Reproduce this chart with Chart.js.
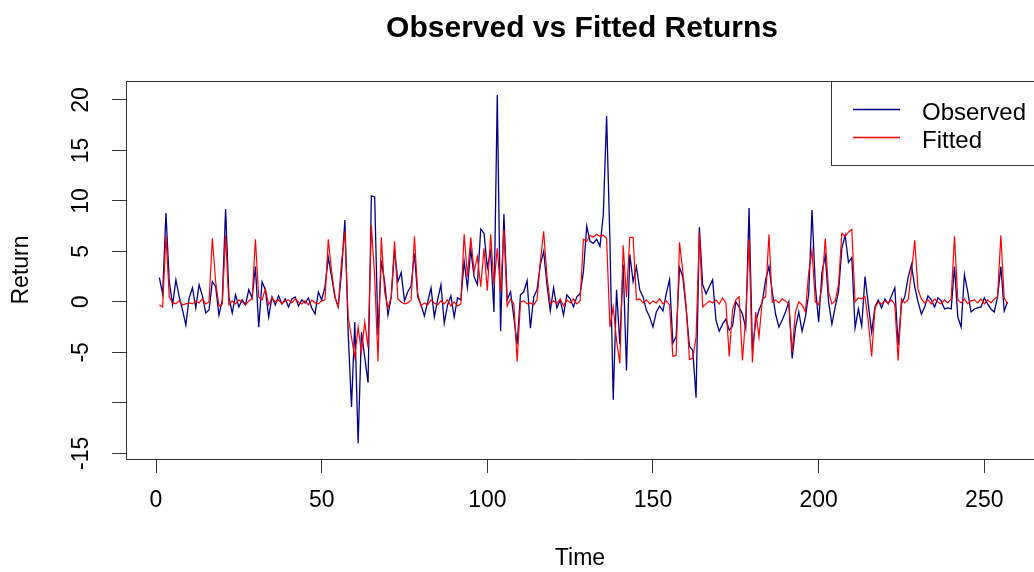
<!DOCTYPE html>
<html>
<head>
<meta charset="utf-8">
<title>Observed vs Fitted Returns</title>
<script src="https://cdn.jsdelivr.net/npm/chart.js@4.4.1/dist/chart.umd.min.js"></script>
<style>
	html, body { margin: 0; padding: 0; background: #fff; overflow: hidden; }
	canvas { display: block; }
</style>
</head>
<body>
<canvas id="returns" width="1034" height="572"></canvas>
<script>
// values, one row = 10 periods
const observed = [
	2.4, 0.8, 8.8, 2.0, -0.3, 2.2, 0.5, -0.8, -2.3, 0.4,
	1.4, -0.6, 1.7, 0.6, -1.1, -0.8, 2.0, 1.5, -1.3, 0.2,
	9.2, 0.5, -1.1, 0.7, -0.5, 0.2, -0.3, 1.2, 0.4, 3.5,
	-2.5, 2.0, 1.2, -1.5, 0.5, -0.3, 0.6, -0.2, 0.3, -0.5,
	0.3, 0.5, -0.4, 0.2, -0.1, 0.4, -0.6, -1.2, 1.0, 0.2,
	1.5, 4.4, 2.5, 0.5, -0.5, 3.0, 8.1, -3.1, -10.4, -2.0,
	-14.0, -3.0, -5.5, -8.0, 10.5, 10.4, -3.3, 4.1, 2.0, -1.3,
	0.5, 5.2, 2.0, 2.9, 0.1, 1.0, 1.6, 4.8, 0.5, -0.3,
	-1.4, 0.0, 1.4, -1.5, 0.2, 1.7, -2.1, -0.3, 0.6, -1.5,
	0.4, 0.2, 4.0, 1.4, 5.2, 2.5, 1.7, 7.2, 6.8, 3.4,
	5.0, -1.0, 20.5, -2.9, 8.7, 0.2, 1.0, -1.5, -4.2, 0.7,
	1.0, 2.1, -2.6, 0.5, 1.2, 3.7, 5.0, 1.7, -0.9, 1.4,
	-0.6, 0.2, -1.3, 0.7, 0.3, -0.5, 0.5, 0.8, 3.0, 7.5,
	6.0, 5.8, 6.2, 5.5, 8.6, 18.4, 6.0, -9.7, 1.2, -4.2,
	3.7, -6.8, 4.7, 2.0, 3.5, 1.2, 0.5, -0.8, -1.5, -2.5,
	-1.0, -0.4, -0.9, 0.8, 2.2, -4.1, -3.4, 3.4, 2.5, -0.7,
	-4.4, -4.8, -9.5, 7.4, 1.7, 0.8, 1.5, 2.2, -1.8, -2.9,
	-2.2, -1.7, -2.8, -2.4, 0.0, -0.5, -1.2, -2.6, 9.3, -4.7,
	-2.0, -0.8, 0.0, 2.2, 3.5, 1.0, -1.2, -2.5, -1.8, -1.0,
	0.0, -5.6, -2.6, -1.0, -2.9, -1.5, 0.8, 9.1, 1.6, -2.0,
	2.9, 4.6, 0.0, -2.2, -0.5, 1.0, 5.3, 6.6, 3.9, 4.4,
	-2.6, -0.7, -2.4, 2.5, -0.3, -3.0, -0.5, 0.2, -0.6, 0.3,
	-0.2, 0.6, 1.4, -4.3, -0.2, 0.5, 2.4, 3.7, 1.5, 0.0,
	-1.2, -0.5, 0.6, 0.2, -0.5, 0.4, 0.1, -0.7, -0.6, -0.7,
	3.5, -1.5, -2.5, 2.7, 1.0, -1.0, -0.7, -0.6, -0.5, 0.4,
	-0.2, -0.7, -1.0, 0.5, 3.5, -0.9, 0.0,
]
const fitted = [
	-0.3, -0.5, 6.6, 0.5, -0.1, -0.2, 0.1, -0.3, -0.2, -0.1,
	-0.2, 0.1, -0.1, 0.3, -0.2, 0.0, 6.3, 2.0, -0.4, -0.2,
	6.6, -0.3, 0.1, -0.2, 0.2, 0.0, -0.3, 0.1, 0.3, 6.2,
	0.5, 0.2, 1.3, -0.3, 0.4, 0.0, 0.2, -0.2, 0.1, 0.2,
	-0.1, 0.3, 0.0, -0.2, 0.1, -0.3, 0.2, -0.1, -0.2, 0.1,
	0.2, 6.2, 3.0, 0.5, -0.5, 4.0, 7.0, -1.5, -3.5, -5.5,
	-2.5, -5.0, -2.0, -4.5, 7.6, 2.5, -5.9, 6.4, 1.0, -0.6,
	0.5, 6.0, 0.3, 0.0, -0.2, -0.1, 0.2, 6.5, 0.8, -0.4,
	-0.1, -0.3, 0.2, -0.1, -0.3, 0.1, -0.2, 0.2, -0.4, 0.0,
	-0.4, -0.2, 6.7, 2.5, 6.4, 3.0, 4.5, 1.5, 5.3, 1.1,
	6.7, 1.7, 5.3, 1.0, 7.2, -0.4, 0.3, -0.2, -5.9, 0.0,
	0.1, -0.2, -0.1, -0.3, 0.2, 4.0, 7.0, 2.5, -0.2, 0.1,
	-0.2, 0.3, -0.4, 0.2, -0.1, 0.3, -0.2, 0.1, 6.2, 6.0,
	6.6, 6.4, 6.7, 6.5, 6.6, 6.3, -2.5, -0.5, -3.8, -6.1,
	5.6, 0.5, 6.4, 6.4, 0.2, 0.3, -0.1, 0.2, -0.2, 0.1,
	-0.1, 0.3, -0.2, 0.1, -0.3, -5.4, -5.3, 5.9, 3.0, -0.3,
	-5.7, -5.6, -3.5, 6.8, -0.5, -0.2, 0.1, -0.1, 0.2, -0.2,
	0.4, -0.1, -5.4, -0.8, 0.2, 0.5, -5.8, -1.5, 6.2, -6.0,
	-1.0, -3.5, 0.3, 0.5, 6.7, 0.0, 0.2, -0.1, 0.3, 0.1,
	-0.2, -5.0, -1.0, 0.0, -0.3, -1.0, 2.9, 5.1, 0.0, -0.3,
	1.5, 6.3, 1.0, -0.2, 0.1, 1.7, 6.8, 6.5, 6.9, 7.2,
	0.0, 0.4, 0.3, 0.5, -2.0, -5.4, -0.6, 0.0, -0.2, 0.1,
	-0.1, 0.2, -0.3, -5.8, 0.3, -0.1, 0.2, 2.9, 6.1, 1.2,
	0.3, -0.1, 0.2, -0.2, 0.3, 0.0, -0.2, 0.2, -0.1, 0.3,
	6.5, 0.2, -0.1, 0.3, -0.2, 0.1, 0.2, -0.1, 0.3, -0.2,
	0.2, -0.1, 0.3, 0.5, 6.6, 0.4, -0.2,
]
const time = observed.map((v, i) => i + 1)

const xTicks = [0, 50, 100, 150, 200, 250]
const yTicks = [-15, -10, -5, 0, 5, 10, 15, 20]
const yTickLabels = ['-15', '', '-5', '0', '5', '10', '15', '20']
const seriesNames = ['Observed', 'Fitted']
const seriesColors = ['#00008b', '#ff0000']

const fontFamily = '"Liberation Sans", Arial, sans-serif'
const axisColor = '#333'

function toPoints(values) {
	return values.map((v, i) => ({ x: time[i], y: v }))
}

// R style bits: box top, main title, rotated y labels, legend
const rDecor = {
	id: 'rDecor',
	afterDraw(chart) {
		const { ctx, chartArea: area, scales: { y } } = chart
		ctx.save()
		ctx.strokeStyle = axisColor
		ctx.lineWidth = 1
		ctx.beginPath()
		ctx.moveTo(area.left, area.top + 0.5)
		ctx.lineTo(area.right, area.top + 0.5)
		ctx.stroke()

		ctx.fillStyle = '#000'
		ctx.font = 'bold 30px ' + fontFamily
		ctx.textAlign = 'center'
		ctx.textBaseline = 'alphabetic'
		ctx.fillText('Observed vs Fitted Returns', 582, 37)

		ctx.font = '23px ' + fontFamily
		ctx.textBaseline = 'middle'
		yTicks.forEach((v, i) => {
			if (!yTickLabels[i]) return
			ctx.save()
			ctx.translate(82, y.getPixelForValue(v))
			ctx.rotate(-Math.PI / 2)
			ctx.fillText(yTickLabels[i], 0, 0)
			ctx.restore()
		})

		// legend box
		ctx.fillStyle = '#fff'
		ctx.strokeStyle = axisColor
		ctx.fillRect(831.5, 81.5, 220, 84)
		ctx.strokeRect(831.5, 81.5, 220, 84)
		ctx.font = '24px ' + fontFamily
		ctx.textAlign = 'left'
		ctx.textBaseline = 'alphabetic'
		seriesNames.forEach((name, i) => {
			const ly = 109.5 + i * 28
			ctx.save()
			ctx.strokeStyle = seriesColors[i]
			ctx.lineWidth = 1.3
			ctx.beginPath()
			ctx.moveTo(853, ly)
			ctx.lineTo(900, ly)
			ctx.stroke()
			ctx.restore()
			ctx.fillStyle = '#000'
			ctx.fillText(name, 922, ly + 10.5)
		})
		ctx.restore()
	}
}

const ctx = document.getElementById('returns').getContext('2d')
new Chart(ctx, {
	type: 'line',
	data: {
		datasets: [
			{
				label: seriesNames[0],
				data: toPoints(observed),
				borderColor: seriesColors[0],
				borderWidth: 1.3,
				order: 2,
			},
			{
				label: seriesNames[1],
				data: toPoints(fitted),
				borderColor: seriesColors[1],
				borderWidth: 1.2,
				order: 1,
			},
		]
	},
	plugins: [rDecor],
	options: {
		responsive: false,
		animation: false,
		events: [],
		elements: {
			point: { radius: 0 },
			line: { tension: 0 }
		},
		layout: {
			padding: { top: 81, left: 0, right: 0, bottom: 0 }
		},
		scales: {
			x: {
				type: 'linear',
				min: -9.06,
				max: 265,
				afterFit: (scale) => { scale.height = 113 },
				afterBuildTicks: (scale) => { scale.ticks = xTicks.map(v => ({ value: v })) },
				grid: {
					drawOnChartArea: false,
					drawTicks: true,
					tickLength: 14,
					tickColor: axisColor,
					color: axisColor,
				},
				border: { display: true, color: axisColor, width: 1 },
				ticks: {
					autoSkip: false,
					maxRotation: 0,
					padding: 14,
					color: '#000',
					font: { family: fontFamily, size: 23 },
				},
				title: {
					display: true,
					text: 'Time',
					color: '#000',
					font: { family: fontFamily, size: 23 },
					padding: { top: 0, bottom: 0 },
				},
			},
			y: {
				type: 'linear',
				min: -15.56,
				max: 21.88,
				afterFit: (scale) => { scale.width = 126 },
				afterBuildTicks: (scale) => { scale.ticks = yTicks.map(v => ({ value: v })) },
				grid: {
					drawOnChartArea: false,
					drawTicks: true,
					tickLength: 14,
					tickColor: axisColor,
					color: axisColor,
				},
				border: { display: true, color: axisColor, width: 1 },
				ticks: { display: false },
				title: {
					display: true,
					text: 'Return',
					color: '#000',
					font: { family: fontFamily, size: 23 },
					padding: { top: 8, bottom: 0 },
				},
			},
		},
		plugins: {
			legend: { display: false },
			tooltip: { enabled: false },
			title: { display: false },
		}
	}
})
</script>
</body>
</html>
